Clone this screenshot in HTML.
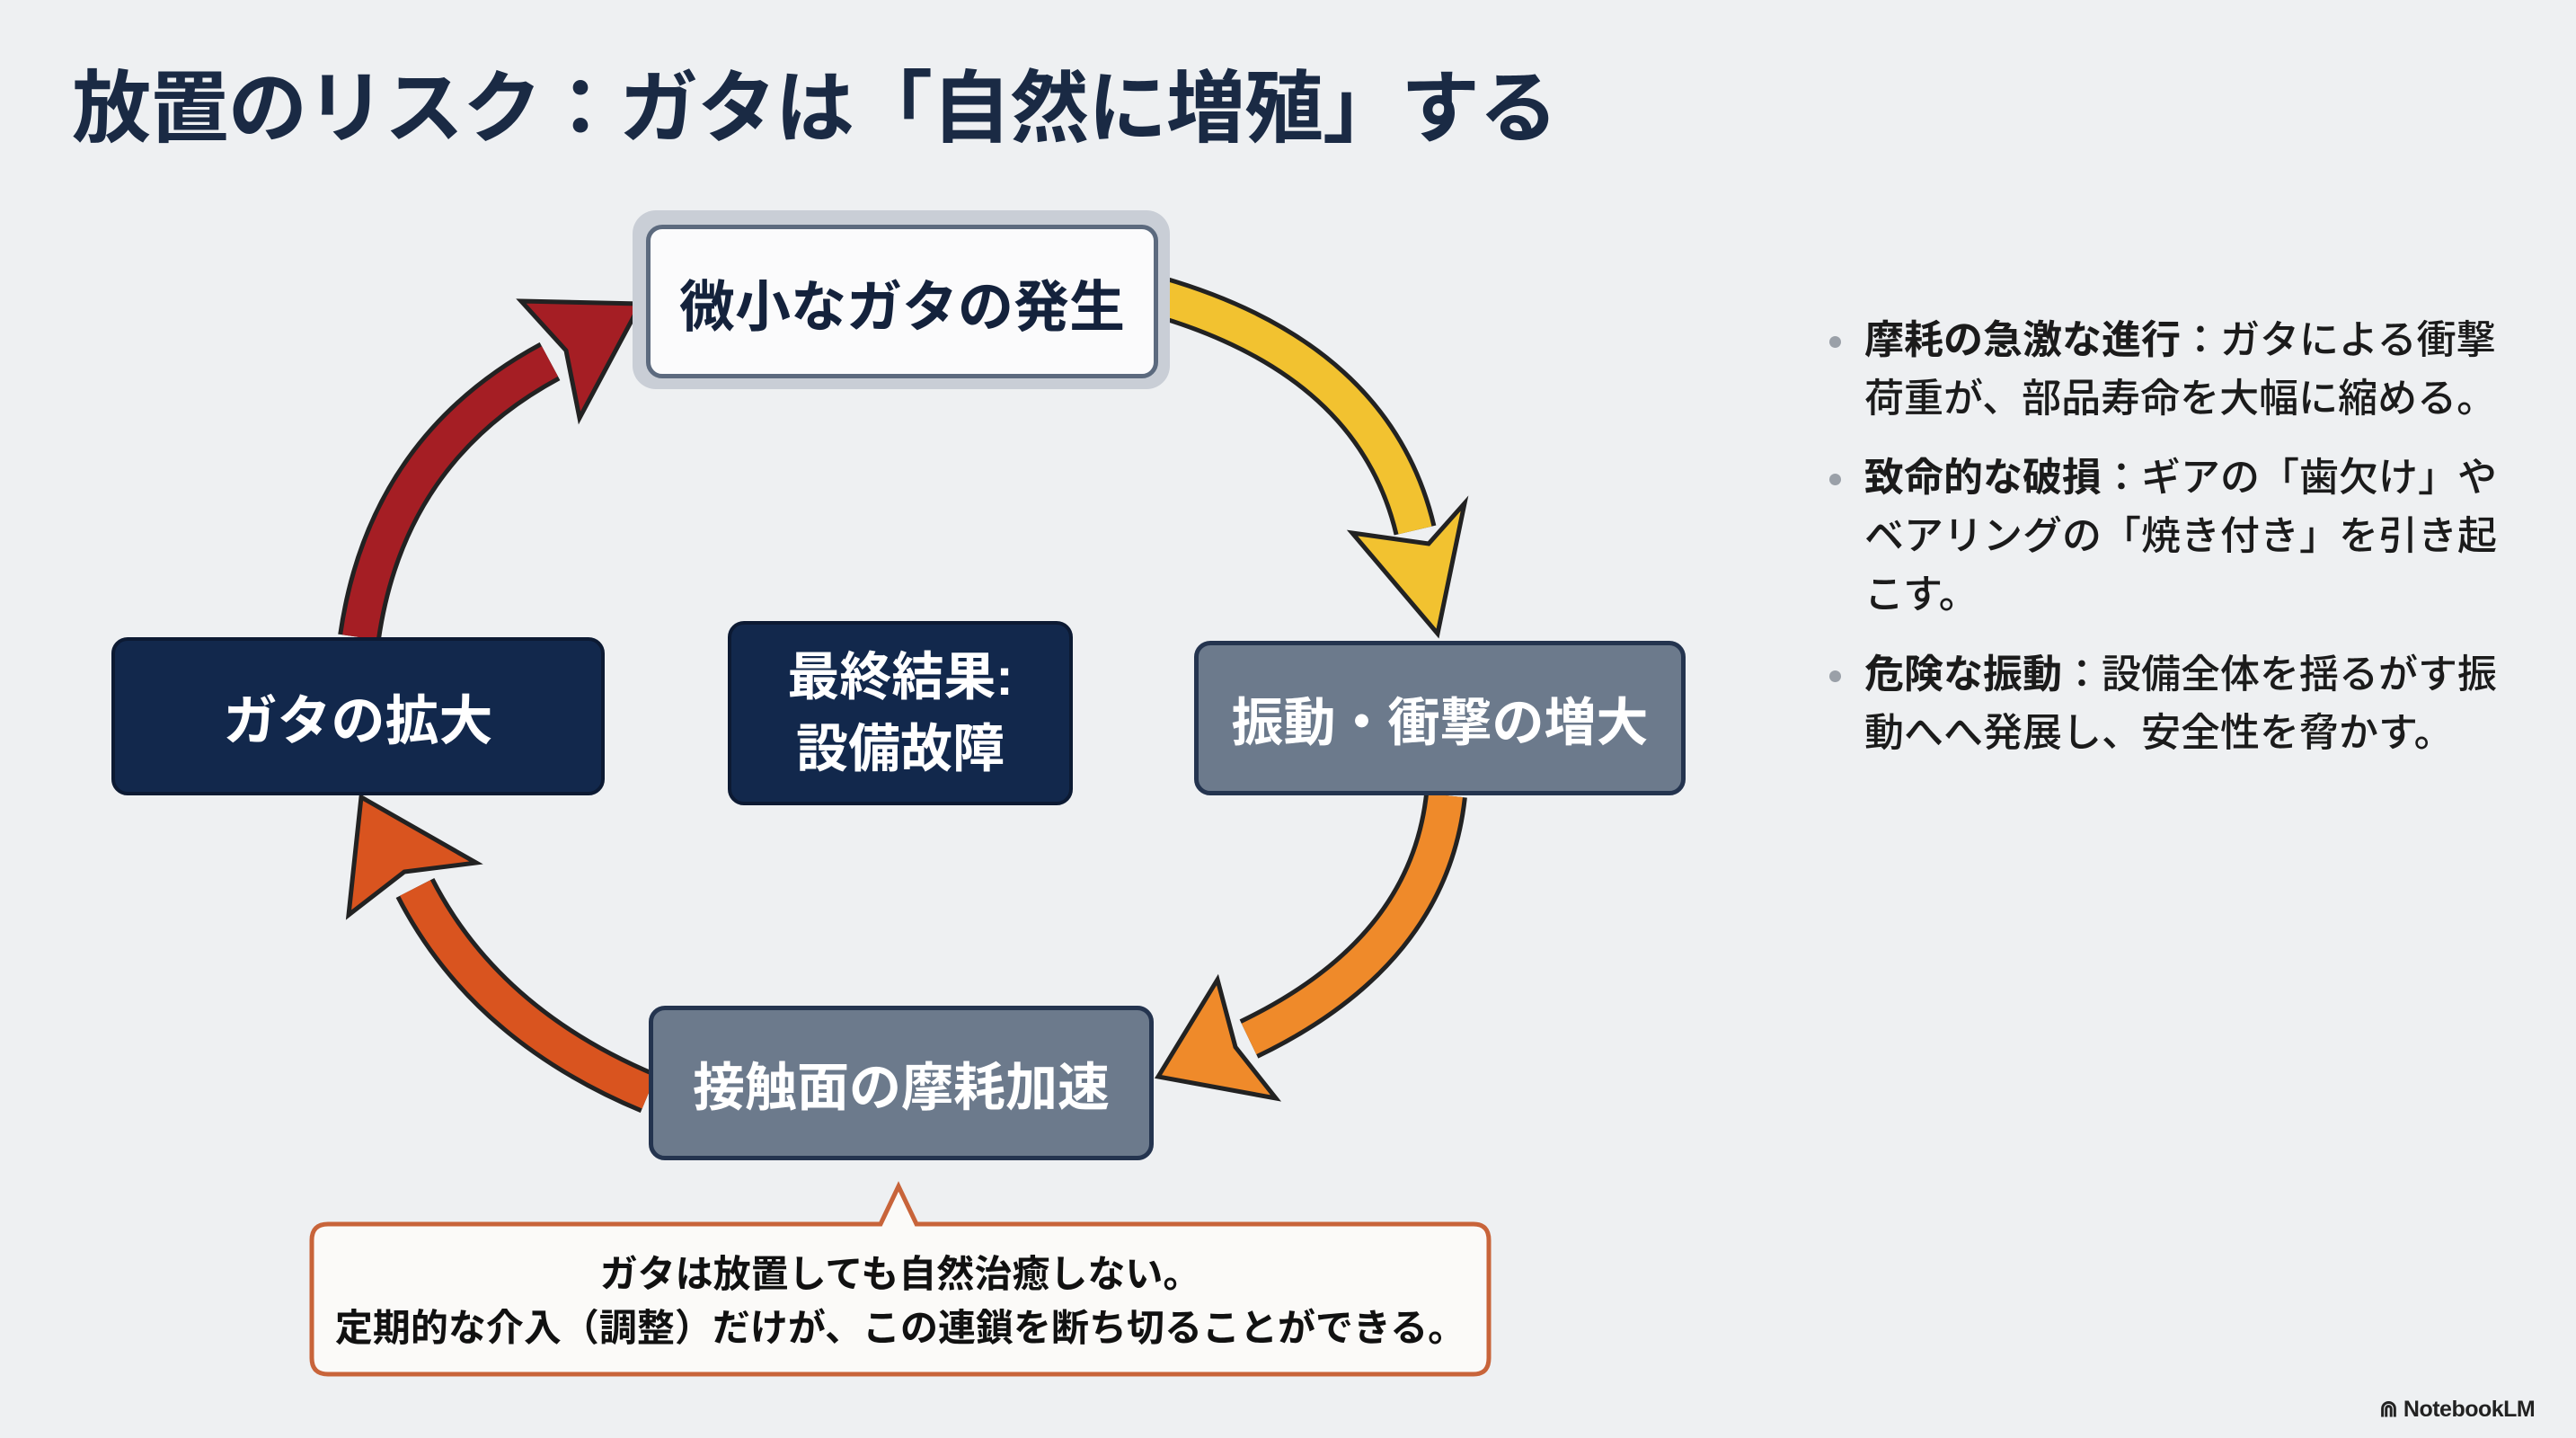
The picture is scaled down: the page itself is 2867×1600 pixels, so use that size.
<!DOCTYPE html>
<html><head><meta charset="utf-8"><style>
html,body{margin:0;padding:0}
body{width:2867px;height:1600px;background:#eef0f2;position:relative;overflow:hidden;font-family:"Liberation Sans","Noto Sans CJK JP",sans-serif}
.t{position:absolute;white-space:nowrap}
.box{position:absolute;box-sizing:border-box;border-radius:18px;display:flex;align-items:center;justify-content:center;text-align:center;font-weight:bold}
.b{position:absolute;left:2075px;font-size:44px;color:#1b1b1b;line-height:65px;white-space:nowrap;font-weight:500}
.dot{position:absolute;left:2036px;width:13px;height:13px;border-radius:50%;background:#9aa0a8}
</style></head><body>
<div class="t" style="left:80px;top:50px;font-size:88px;font-weight:bold;color:#1a2a44;letter-spacing:-1px">放置のリスク：ガタは「自然に増殖」する</div>

<svg width="2867" height="1600" style="position:absolute;left:0;top:0">
<path d="M1289 330 Q1530 400 1575 590" fill="none" stroke="#222" stroke-width="48"/>
<path d="M1289 330 Q1530 400 1575 590" fill="none" stroke="#f2c230" stroke-width="38"/>
<polygon points="1600,705 1630,560 1590,605 1505,593" fill="#f2c230" stroke="#222" stroke-width="5"/>
<path d="M1609 885 Q1590 1060 1390 1156" fill="none" stroke="#222" stroke-width="48"/>
<path d="M1609 885 Q1590 1060 1390 1156" fill="none" stroke="#ef8a2a" stroke-width="38"/>
<polygon points="1289,1198 1355,1090 1375,1165 1420,1222" fill="#ef8a2a" stroke="#222" stroke-width="5"/>
<path d="M722 1216 Q540 1140 462 988" fill="none" stroke="#222" stroke-width="48"/>
<path d="M722 1216 Q540 1140 462 988" fill="none" stroke="#d9541f" stroke-width="38"/>
<polygon points="402,887 388,1018 450,970 530,960" fill="#d9541f" stroke="#222" stroke-width="5"/>
<path d="M400 709 Q430 500 612 402" fill="none" stroke="#222" stroke-width="48"/>
<path d="M400 709 Q430 500 612 402" fill="none" stroke="#a51e24" stroke-width="38"/>
<polygon points="713,338 580,335 630,390 645,465" fill="#a51e24" stroke="#222" stroke-width="5"/>
<path d="M365 1362 L980 1362 L1000 1320 L1020 1362 L1640 1362 Q1657 1362 1657 1380 L1657 1511 Q1657 1529 1640 1529 L365 1529 Q347 1529 347 1511 L347 1380 Q347 1362 365 1362 Z" fill="#fbfaf8" stroke="#c8643a" stroke-width="5"/>
</svg>

<div class="box" style="left:704px;top:234px;width:598px;height:199px;border-radius:26px;background:#c9ced6"></div>
<div class="box" style="left:719px;top:250px;width:570px;height:171px;background:#fbfbfc;border:5px solid #5c6a7e;color:#14223c;font-size:62px">微小なガタの発生</div>
<div class="box" style="left:124px;top:709px;width:549px;height:176px;background:#12284c;border:4px solid #0c1a33;color:#fff;font-size:60px">ガタの拡大</div>
<div class="box" style="left:810px;top:691px;width:384px;height:205px;background:#12284c;border:4px solid #0c1a33;color:#fff;font-size:58px;line-height:80px">最終結果:<br>設備故障</div>
<div class="box" style="left:1329px;top:713px;width:547px;height:172px;background:#6c7a8c;border:5px solid #24344f;color:#fff;font-size:58px">振動・衝撃の増大</div>
<div class="box" style="left:722px;top:1119px;width:562px;height:172px;background:#6c7a8c;border:5px solid #24344f;color:#fff;font-size:58px">接触面の摩耗加速</div>

<div class="t" style="left:347px;width:1310px;top:1388px;text-align:center;font-size:42px;font-weight:bold;color:#111;line-height:60px">ガタは放置しても自然治癒しない。<br>定期的な介入（調整）だけが、この連鎖を断ち切ることができる。</div>

<div class="dot" style="top:374px"></div>
<div class="b" style="top:346px"><b>摩耗の急激な進行</b>：ガタによる衝撃<br>荷重が、部品寿命を大幅に縮める。</div>
<div class="dot" style="top:527px"></div>
<div class="b" style="top:499px"><b>致命的な破損</b>：ギアの「歯欠け」や<br>ベアリングの「焼き付き」を引き起<br>こす。</div>
<div class="dot" style="top:746px"></div>
<div class="b" style="top:718px"><b>危険な振動</b>：設備全体を揺るがす振<br>動へへ発展し、安全性を脅かす。</div>

<div class="t" style="left:2648px;top:1553px;font-size:25px;color:#222;font-weight:bold;letter-spacing:-0.5px">⋒ NotebookLM</div>
</body></html>
